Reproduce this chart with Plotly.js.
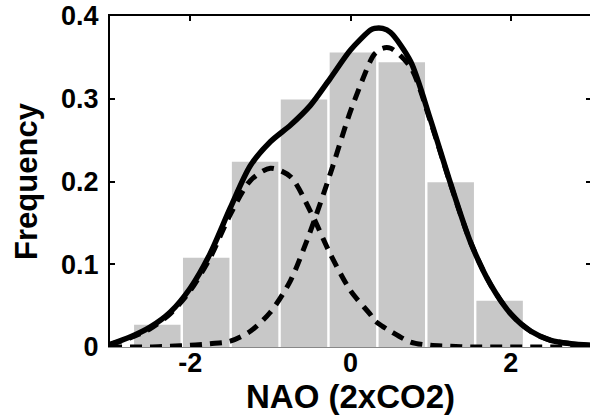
<!DOCTYPE html>
<html>
<head>
<meta charset="utf-8">
<script src="https://cdn.plot.ly/plotly-3.0.1.min.js"></script>
<style>
html,body{margin:0;padding:0;overflow:hidden;background:#fff;width:590px;height:420px;}
#chart{width:591px;height:420px;}
</style>
</head>
<body>
<div id="chart"></div>
<script>
// Histogram bins (centres) and frequencies
const binCenters = [-2.41, -1.80, -1.19, -0.58, 0.03, 0.64, 1.25, 1.86];
const binFreq    = [0.027, 0.108, 0.224, 0.299, 0.356, 0.344, 0.199, 0.056];

// Curves
const curveX      = [-3.0, -2.75, -2.5, -2.25, -2.0, -1.75, -1.5, -1.25, -1.0, -0.75, -0.5, -0.25, 0.0, 0.25, 0.3, 0.4, 0.5, 0.75, 1.0, 1.25, 1.5, 1.75, 2.0, 2.25, 2.5, 2.75, 3.0];
const totalPdf    = [0.003, 0.012, 0.024, 0.042, 0.071, 0.113, 0.168, 0.219, 0.248, 0.268, 0.292, 0.325, 0.359, 0.383, 0.385, 0.385, 0.380, 0.345, 0.274, 0.197, 0.126, 0.075, 0.040, 0.019, 0.008, 0.004, 0.002];
const leftPdf     = [0.003, 0.011, 0.022, 0.040, 0.068, 0.108, 0.160, 0.201, 0.216, 0.206, 0.164, 0.112, 0.068, 0.039, 0.032, 0.025, 0.019, 0.006, 0.002, 0.001, 0.000, 0.000, 0.000, 0.000, 0.000, 0.000, 0.000];
const rightPdf    = [0.000, 0.000, 0.000, 0.001, 0.002, 0.004, 0.007, 0.019, 0.042, 0.080, 0.140, 0.210, 0.285, 0.346, 0.354, 0.361, 0.361, 0.338, 0.272, 0.196, 0.126, 0.075, 0.040, 0.019, 0.008, 0.004, 0.002];

const xTickVals = [-2, 0, 2];
const xTickText = ['-2', '0', '2'];
const yTickVals = [0, 0.1, 0.2, 0.3, 0.4];
const yTickText = ['0', '0.1', '0.2', '0.3', '0.4'];

const xTitle = 'NAO (2xCO2)';
const yTitle = 'Frequency';

const FONT = 'Liberation Sans, Arial, Helvetica, sans-serif';
const dashStyle = '12px,8px';

const traces = [
  {type:'bar', x:binCenters, y:binFreq, marker:{color:'#c8c8c8', line:{width:0}}, hoverinfo:'skip', showlegend:false},
  {type:'scatter', mode:'lines', x:curveX, y:leftPdf, line:{color:'#000', width:5, dash:dashStyle, shape:'spline', smoothing:0.8}, showlegend:false},
  {type:'scatter', mode:'lines', x:curveX, y:rightPdf, line:{color:'#000', width:5, dash:dashStyle, shape:'spline', smoothing:0.8}, showlegend:false},
  {type:'scatter', mode:'lines', x:curveX, y:totalPdf, line:{color:'#000', width:5.5, shape:'spline', smoothing:0.8}, showlegend:false},
  {type:'scatter', mode:'lines', x:[], y:[], xaxis:'x2', showlegend:false}
];

const tickFont = {family:FONT, size:27, color:'#000', weight:'bold'};
const xTitleFont = {family:FONT, size:33, color:'#000', weight:'bold'};
const yTitleFont = {family:FONT, size:31, color:'#000', weight:'bold'};

const layout = {
  width:591, height:420,
  margin:{l:110, r:0, t:16, b:73, pad:0},
  paper_bgcolor:'#fff', plot_bgcolor:'#fff',
  bargap:0.05,
  showlegend:false,
  xaxis:{
    range:[-3, 3], showgrid:false, zeroline:false,
    showline:true, linecolor:'#888', linewidth:1,
    ticks:'', tickvals:xTickVals, ticktext:xTickText,
    tickfont:tickFont, ticklabelstandoff:-8,
    title:{text:xTitle, font:xTitleFont, standoff:6}
  },
  xaxis2:{
    overlaying:'x', side:'top', anchor:'y', matches:'x', range:[-3,3],
    showgrid:false, zeroline:false, showline:true, linecolor:'#000', linewidth:2,
    ticks:'inside', ticklen:5, tickwidth:2, tickcolor:'#000',
    tickvals:xTickVals, showticklabels:false
  },
  yaxis:{
    range:[0, 0.4], showgrid:false, zeroline:false,
    showline:true, linecolor:'#000', linewidth:2, mirror:'ticks',
    ticks:'inside', ticklen:5, tickwidth:2, tickcolor:'#000',
    tickvals:yTickVals, ticktext:yTickText,
    tickfont:tickFont, ticklabelstandoff:4,
    title:{text:yTitle, font:yTitleFont, standoff:14}
  }
};

Plotly.newPlot('chart', traces, layout, {displayModeBar:false, staticPlot:true});
</script>
</body>
</html>
